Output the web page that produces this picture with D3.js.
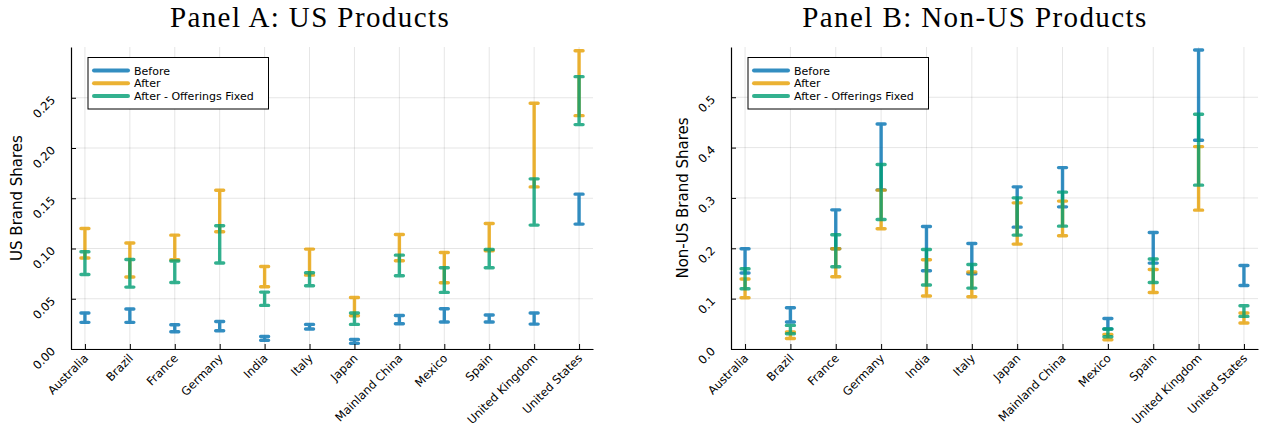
<!DOCTYPE html>
<html>
<head>
<meta charset="utf-8">
<script src="https://cdn.jsdelivr.net/npm/d3@7"></script>
<style>
  body { margin: 0; background: #fff; }
  text { font-family: "DejaVu Sans", sans-serif; fill: #000; }
</style>
</head>
<body>
<script>
// categories (same for both panels)
var countries = ["Australia", "Brazil", "France", "Germany", "India", "Italy", "Japan",
  "Mainland China", "Mexico", "Spain", "United Kingdom", "United States"];

var seriesNames = ["Before", "After", "After - Offerings Fixed"];
var seriesColors = ["#0072B2", "#E69F00", "#009E73"];

// Panel A: US products, [low, high] per country
var usBefore = [[0.0265,0.0358],[0.0265,0.0398],[0.0172,0.0242],[0.0182,0.0274],[0.0086,0.0125],[0.0199,0.0245],
  [0.0056,0.0095],[0.0251,0.0334],[0.0268,0.0401],[0.0268,0.0338],[0.0248,0.0358],[0.1243,0.1541]];
var usAfter = [[0.0905,0.1199],[0.0716,0.1054],[0.0888,0.1133],[0.1166,0.1580],[0.0619,0.0821],[0.0735,0.0994],
  [0.0331,0.0513],[0.0878,0.1139],[0.0659,0.0960],[0.0977,0.1249],[0.1613,0.2445],[0.2322,0.2968]];
var usFixed = [[0.0742,0.0967],[0.0616,0.0891],[0.0662,0.0875],[0.0855,0.1226],[0.0434,0.0566],[0.0629,0.0758],
  [0.0245,0.0358],[0.0729,0.0934],[0.0563,0.0808],[0.0808,0.0990],[0.1233,0.1693],[0.2233,0.2710]];
var usTicks = [0, 0.05, 0.10, 0.15, 0.20, 0.25];

// Panel B: non-US products
var nonUsBefore = [[0.1508,0.1990],[0.0535,0.0819],[0.1990,0.2764],[0.3160,0.4470],[0.1554,0.2433],[0.1494,0.2096],
  [0.2420,0.3220],[0.2823,0.3603],[0.0397,0.0607],[0.1706,0.2314],[0.4147,0.5938],[0.1262,0.1659]];
var nonUsAfter = [[0.1018,0.1389],[0.0210,0.0337],[0.1435,0.1990],[0.2387,0.3155],[0.1052,0.1772],[0.1038,0.1528],
  [0.2083,0.2903],[0.2248,0.2937],[0.0185,0.0290],[0.1123,0.1580],[0.2758,0.4020],[0.0516,0.0714]];
var nonUsFixed = [[0.1196,0.1593],[0.0304,0.0469],[0.1633,0.2268],[0.2572,0.3663],[0.1270,0.1977],[0.1210,0.1679],
  [0.2262,0.3002],[0.2440,0.3115],[0.0244,0.0397],[0.1322,0.1786],[0.3254,0.4663],[0.0647,0.0859]];
var nonUsTicks = [0, 0.1, 0.2, 0.3, 0.4, 0.5];

var W = 1262, H = 433;
var svg = d3.select("body").append("svg").attr("width", W).attr("height", H);

var panels = [
  {title: "Panel A: US Products", titleX: 310, ylabel: "US Brand Shares", labelX: 17,
   left: 71, right: 593, ymax: 0.3005, ticks: usTicks, fmt: d3.format(".2f"),
   series: [usBefore, usAfter, usFixed]},
  {title: "Panel B: Non-US Products", titleX: 975, ylabel: "Non-US Brand Shares", labelX: 683,
   left: 731, right: 1258, ymax: 0.5998, ticks: nonUsTicks, fmt: d3.format(".1f"),
   series: [nonUsBefore, nonUsAfter, nonUsFixed]}
];
var plotTop = 47, plotBottom = 349;

panels.forEach(function(p) {
  var x = d3.scalePoint().domain(countries).range([p.left, p.right]).padding(0.31);
  var y = d3.scaleLinear().domain([0, p.ymax]).range([plotBottom, plotTop]);
  var g = svg.append("g");

  // grid
  g.selectAll(".vgrid").data(countries).enter().append("line")
    .attr("x1", function(d) { return x(d); }).attr("x2", function(d) { return x(d); })
    .attr("y1", plotTop).attr("y2", plotBottom)
    .attr("stroke", "#000").attr("stroke-opacity", 0.1).attr("stroke-width", 1);
  g.selectAll(".hgrid").data(p.ticks).enter().append("line")
    .attr("x1", p.left).attr("x2", p.right)
    .attr("y1", function(d) { return y(d); }).attr("y2", function(d) { return y(d); })
    .attr("stroke", "#000").attr("stroke-opacity", 0.1).attr("stroke-width", 1);

  // error bars
  var cap = 4;
  p.series.forEach(function(vals, si) {
    g.selectAll(".eb" + si).data(vals).enter().append("path")
      .attr("d", function(d, i) {
        var cx = x(countries[i]), y0 = y(d[0]), y1 = y(d[1]);
        return "M" + cx + "," + y0 + "L" + cx + "," + y1 +
          "M" + (cx - cap) + "," + y1 + "L" + (cx + cap) + "," + y1 +
          "M" + (cx - cap) + "," + y0 + "L" + (cx + cap) + "," + y0;
      })
      .attr("fill", "none")
      .attr("stroke", seriesColors[si])
      .attr("stroke-opacity", 0.8)
      .attr("stroke-width", 3.4)
      .attr("stroke-linecap", "round");
  });

  // axes
  var xAxis = d3.axisBottom(x).tickSizeInner(-5).tickSizeOuter(0).tickFormat("");
  g.append("g").attr("transform", "translate(0," + plotBottom + ")").call(xAxis)
    .call(function(a) { a.select(".domain").attr("stroke-width", 1.2); });
  var yAxis = d3.axisLeft(y).tickValues(p.ticks).tickSizeInner(-5).tickSizeOuter(0).tickFormat("");
  g.append("g").attr("transform", "translate(" + p.left + ",0)").call(yAxis)
    .call(function(a) { a.select(".domain").attr("stroke-width", 1.2); });

  // rotated tick labels
  g.selectAll(".xl").data(countries).enter().append("text")
    .attr("transform", function(d) { return "translate(" + (x(d) + 4) + "," + (plotBottom + 10) + ") rotate(-45)"; })
    .attr("text-anchor", "end").attr("font-size", 11.6)
    .text(function(d) { return d; });
  g.selectAll(".yl").data(p.ticks).enter().append("text")
    .attr("transform", function(d) { return "translate(" + (p.left - 15) + "," + (y(d) + 3) + ") rotate(-45)"; })
    .attr("text-anchor", "end").attr("font-size", 11.6)
    .text(function(d) { return p.fmt(d); });

  // y label
  g.append("text")
    .attr("transform", "translate(" + (p.labelX + 5) + "," + ((plotTop + plotBottom) / 2) + ") rotate(-90)")
    .attr("text-anchor", "middle").attr("font-size", 15)
    .text(p.ylabel);

  // title
  g.append("text").attr("x", p.titleX).attr("y", 27)
    .attr("text-anchor", "middle")
    .style("font-family", "'Liberation Serif', 'DejaVu Serif', serif")
    .style("letter-spacing", "1.4px")
    .attr("font-size", 29)
    .text(p.title);

  // legend
  var lx = p.left + 17, ly = 57.5;
  var leg = g.append("g");
  leg.append("rect").attr("x", lx).attr("y", ly).attr("width", 180.5).attr("height", 51.5)
    .attr("fill", "#fff").attr("stroke", "#000").attr("stroke-width", 1);
  seriesNames.forEach(function(name, i) {
    var ry = ly + 13 + i * 12.8;
    leg.append("line").attr("x1", lx + 6).attr("x2", lx + 40)
      .attr("y1", ry).attr("y2", ry)
      .attr("stroke", seriesColors[i]).attr("stroke-opacity", 0.8)
      .attr("stroke-width", 4).attr("stroke-linecap", "round");
    leg.append("text").attr("x", lx + 46).attr("y", ry + 4)
      .attr("font-size", 11).text(name);
  });
});
</script>
</body>
</html>
